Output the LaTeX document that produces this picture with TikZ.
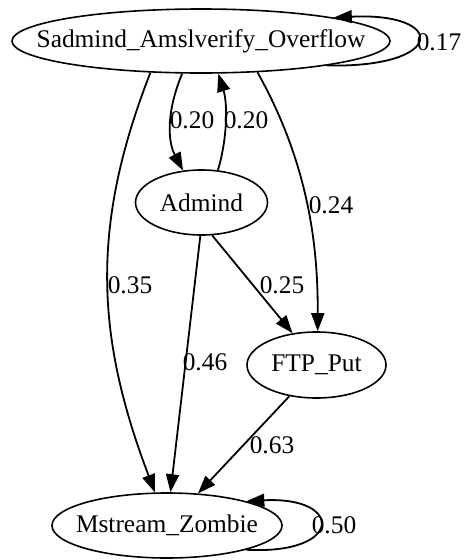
\documentclass[tikz,border=0pt]{standalone}
\usepackage{fontspec}
\setmainfont{Liberation Serif}
\newfontfamily\gvfont{Liberation Serif}
\usetikzlibrary{shapes.geometric,arrows.meta}
\tikzset{
  ell/.style={draw, ellipse, line width=1.6pt, inner sep=0pt},
  lbl/.style={font=\gvfont\fontsize{25.4}{30}\selectfont, inner sep=0pt},
  edge/.style={line width=1.8pt, -{Triangle[length=18pt,width=13pt]}}
}
\begin{document}
\begin{tikzpicture}[x=1pt,y=-1pt]
\useasboundingbox (0,0) rectangle (467,560);
\node[ell, minimum width=378pt, minimum height=64pt, label={[lbl]center:Sadmind\_Amslverify\_Overflow}] (s) at (201,41) {};
\node[ell, minimum width=132pt, minimum height=65pt, label={[lbl]center:Admind}] (a) at (201.5,202.5) {};
\node[ell, minimum width=139pt, minimum height=66pt, label={[lbl]center:FTP\_Put}] (f) at (316.5,365) {};
\node[ell, minimum width=230pt, minimum height=65pt, label={[lbl]center:Mstream\_Zombie}] (m) at (167,525.5) {};

\draw[edge] (s.349.7) .. controls (447,68) and (447,12) .. (s.10.3);
\node[lbl] (l17) at (439,42) {0.17};

\draw[edge] (s.240.5) .. controls (167,110) and (167,140) .. (a.120.7);
\node[lbl] (l20a) at (192,120) {0.20};

\draw[edge] (a.63.9) .. controls (227,140) and (228,105) .. (s.298);
\node[lbl] (l20b) at (246,120) {0.20};

\draw[edge] (s.331.8) .. controls (310,166) and (318,250) .. (f.88);
\node[lbl] (l24) at (331,205) {0.24};

\draw[edge] (s.212) .. controls (90,227) and (96,337) .. (m.110);
\node[lbl] (l35) at (130,285) {0.35};

\draw[edge] (a.288.3) -- (f.127);
\node[lbl] (l25) at (282,285) {0.25};

\draw[edge] (a.268) -- (m.84.7);
\node[lbl] (l46) at (205,362) {0.46};

\draw[edge] (f.229) -- (m.46.3);
\node[lbl] (l63) at (272,445) {0.63};

\draw[edge] (m.343) .. controls (344,555) and (344,496) .. (m.17);
\node[lbl] (l50) at (334,525) {0.50};
\end{tikzpicture}
\end{document}
